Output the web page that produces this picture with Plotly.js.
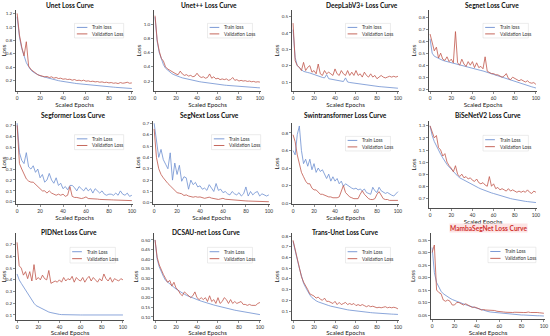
<!DOCTYPE html>
<html><head><meta charset="utf-8">
<script src="https://cdn.plot.ly/plotly-3.0.1.min.js"></script>
<style>html,body{margin:0;padding:0;background:#fff;}#chart{width:550px;height:336px;}</style>
</head><body><div id="chart"></div>
<script>
// ---------------- data ----------------
const epochs = [0,2,4,6,8,10,12,14,16,18,20,22,24,26,28,30,32,34,36,38,40,42,44,46,48,50,52,54,56,58,60,62,64,66,68,70,72,74,76,78,80,82,84,86,88,90,92,94,96,98,100];

const panelTitles = ['Unet Loss Curve','Unet++ Loss Curve','DeepLabV3+ Loss Curve','Segnet Loss Curve','Segformer Loss Curve','SegNext Loss Curve','Swintransformer Loss Curve','BiSeNetV2 Loss Curve','PIDNet Loss Curve','DCSAU-net Loss Curve','Trans-Unet Loss Curve','MambaSegNet Loss Curve'];
const trainLabels = ['Train loss','Train loss','Train loss','Train loss','Train Loss','Train Loss','Train Loss','Train Loss','Train Loss','Train Loss','Train Loss','Train Loss'];
const valLabel = 'Validation Loss';

const unetTrain = [1.15,0.85,0.68,0.56,0.47,0.41,0.36,0.33,0.31,0.29,0.275,0.265,0.255,0.245,0.235,0.225,0.218,0.21,0.203,0.197,0.19,0.185,0.18,0.175,0.17,0.165,0.16,0.156,0.152,0.148,0.144,0.14,0.137,0.134,0.131,0.128,0.125,0.122,0.119,0.116,0.113,0.11,0.107,0.104,0.101,0.099,0.096,0.094,0.091,0.089,0.087];
const unetVal = [1.2,0.88,0.7,0.57,0.78,0.42,0.37,0.34,0.31,0.29,0.28,0.27,0.26,0.265,0.25,0.26,0.24,0.25,0.235,0.24,0.225,0.23,0.22,0.225,0.21,0.22,0.205,0.21,0.2,0.21,0.195,0.2,0.19,0.195,0.185,0.19,0.18,0.185,0.175,0.18,0.17,0.175,0.165,0.17,0.16,0.175,0.165,0.17,0.18,0.165,0.17];
const unetppTrain = [1.1,0.76,0.6,0.5,0.43,0.38,0.35,0.325,0.305,0.29,0.275,0.265,0.255,0.245,0.237,0.23,0.223,0.216,0.21,0.204,0.198,0.192,0.187,0.182,0.177,0.172,0.168,0.164,0.16,0.156,0.152,0.149,0.146,0.143,0.14,0.137,0.134,0.131,0.128,0.126,0.124,0.122,0.12,0.118,0.116,0.114,0.112,0.11,0.108,0.106,0.104];
const unetppVal = [1.12,0.78,0.62,0.52,0.48,0.4,0.37,0.35,0.33,0.31,0.3,0.29,0.34,0.3,0.28,0.29,0.27,0.28,0.26,0.27,0.31,0.27,0.25,0.26,0.24,0.25,0.3,0.24,0.26,0.23,0.24,0.22,0.23,0.22,0.23,0.21,0.22,0.25,0.21,0.22,0.2,0.21,0.2,0.205,0.195,0.2,0.19,0.195,0.185,0.19,0.185];
const deeplabTrain = [0.42,0.25,0.2,0.185,0.175,0.165,0.16,0.158,0.155,0.15,0.145,0.14,0.135,0.13,0.128,0.125,0.145,0.12,0.117,0.115,0.112,0.11,0.108,0.105,0.103,0.125,0.1,0.097,0.095,0.093,0.09,0.088,0.086,0.085,0.083,0.081,0.08,0.078,0.077,0.075,0.074,0.072,0.071,0.07,0.069,0.068,0.067,0.066,0.064,0.063,0.062];
const deeplabVal = [0.46,0.23,0.2,0.19,0.17,0.22,0.17,0.19,0.2,0.16,0.17,0.15,0.21,0.15,0.14,0.17,0.15,0.16,0.15,0.14,0.18,0.15,0.14,0.17,0.15,0.14,0.17,0.14,0.16,0.14,0.17,0.14,0.15,0.13,0.16,0.14,0.13,0.15,0.13,0.14,0.12,0.13,0.14,0.13,0.125,0.13,0.135,0.13,0.135,0.13,0.135];
const segnetTrain = [0.62,0.5,0.475,0.465,0.455,0.445,0.44,0.435,0.43,0.425,0.42,0.415,0.41,0.405,0.4,0.395,0.39,0.385,0.38,0.376,0.372,0.368,0.364,0.36,0.356,0.352,0.346,0.34,0.334,0.328,0.322,0.316,0.31,0.304,0.298,0.292,0.286,0.28,0.274,0.268,0.262,0.256,0.25,0.245,0.24,0.235,0.23,0.225,0.22,0.215,0.21];
const segnetVal = [0.66,0.58,0.52,0.55,0.46,0.5,0.45,0.44,0.47,0.43,0.45,0.42,0.68,0.42,0.4,0.45,0.41,0.39,0.43,0.4,0.43,0.38,0.42,0.38,0.39,0.37,0.47,0.35,0.34,0.33,0.33,0.32,0.32,0.31,0.3,0.31,0.33,0.29,0.28,0.3,0.29,0.28,0.27,0.28,0.27,0.26,0.27,0.255,0.25,0.255,0.24];
const segformerTrain = [0.72,0.45,0.38,0.35,0.45,0.32,0.3,0.33,0.27,0.3,0.22,0.25,0.18,0.2,0.26,0.2,0.17,0.22,0.15,0.17,0.12,0.14,0.11,0.15,0.15,0.13,0.1,0.14,0.12,0.1,0.13,0.1,0.12,0.08,0.12,0.1,0.08,0.1,0.07,0.06,0.07,0.07,0.06,0.08,0.06,0.1,0.07,0.06,0.08,0.05,0.06];
const segformerVal = [0.7,0.35,0.3,0.25,0.21,0.19,0.18,0.18,0.16,0.14,0.12,0.1,0.1,0.08,0.1,0.08,0.07,0.06,0.07,0.06,0.07,0.05,0.06,0.14,0.05,0.04,0.04,0.035,0.03,0.035,0.045,0.03,0.03,0.028,0.025,0.025,0.022,0.02,0.02,0.02,0.018,0.018,0.017,0.016,0.015,0.015,0.014,0.013,0.012,0.012,0.011];
const segnextTrain = [0.7,0.55,0.4,0.47,0.38,0.34,0.3,0.44,0.2,0.35,0.25,0.33,0.19,0.23,0.22,0.12,0.2,0.16,0.18,0.14,0.15,0.12,0.13,0.11,0.16,0.13,0.1,0.17,0.11,0.12,0.09,0.1,0.08,0.07,0.1,0.08,0.07,0.09,0.06,0.08,0.14,0.06,0.1,0.07,0.09,0.1,0.06,0.08,0.07,0.06,0.07];
const segnextVal = [0.65,0.4,0.3,0.25,0.22,0.19,0.17,0.15,0.13,0.11,0.09,0.085,0.08,0.065,0.07,0.06,0.058,0.05,0.055,0.05,0.052,0.045,0.04,0.045,0.05,0.042,0.04,0.035,0.03,0.035,0.04,0.032,0.03,0.025,0.025,0.022,0.02,0.02,0.018,0.018,0.017,0.016,0.015,0.015,0.014,0.015,0.013,0.012,0.012,0.011,0.01];
const swinTrain = [0.6,0.55,0.78,0.88,0.6,0.45,0.5,0.42,0.5,0.38,0.45,0.35,0.4,0.36,0.38,0.32,0.28,0.33,0.25,0.3,0.25,0.28,0.22,0.25,0.19,0.22,0.2,0.18,0.17,0.16,0.17,0.15,0.16,0.14,0.16,0.12,0.11,0.1,0.18,0.14,0.12,0.18,0.14,0.12,0.11,0.12,0.1,0.09,0.08,0.1,0.13];
const swinVal = [0.78,0.7,0.55,0.45,0.35,0.3,0.25,0.22,0.22,0.17,0.15,0.15,0.12,0.1,0.1,0.09,0.08,0.07,0.07,0.06,0.06,0.06,0.07,0.14,0.2,0.12,0.09,0.07,0.06,0.05,0.05,0.05,0.1,0.14,0.1,0.07,0.05,0.04,0.04,0.05,0.1,0.13,0.08,0.05,0.04,0.04,0.03,0.03,0.03,0.03,0.03];
const bisenetTrain = [1.3,1.22,1.17,1.13,1.1,1.065,1.035,1.005,0.98,0.96,0.94,0.92,0.9,0.885,0.87,0.86,0.85,0.84,0.83,0.82,0.81,0.802,0.794,0.786,0.778,0.77,0.763,0.757,0.751,0.745,0.74,0.734,0.728,0.722,0.716,0.71,0.706,0.702,0.698,0.694,0.69,0.687,0.684,0.681,0.678,0.675,0.673,0.671,0.669,0.667,0.665];
const bisenetVal = [1.3,1.25,1.2,1.22,1.12,1.1,1.05,1.07,1.0,0.97,0.95,0.92,0.97,0.9,0.88,0.9,0.87,0.88,0.86,0.87,0.85,0.84,0.86,0.83,0.82,0.83,0.81,0.8,0.88,0.8,0.82,0.78,0.79,0.77,0.78,0.77,0.76,0.78,0.76,0.77,0.76,0.75,0.76,0.75,0.76,0.75,0.77,0.75,0.74,0.76,0.75];
const pidTrain = [0.45,0.4,0.37,0.34,0.32,0.29,0.26,0.23,0.2,0.18,0.17,0.16,0.15,0.14,0.13,0.125,0.12,0.115,0.112,0.108,0.105,0.103,0.102,0.101,0.1,0.1,0.1,0.1,0.1,0.1,0.1,0.1,0.1,0.1,0.1,0.1,0.1,0.1,0.1,0.1,0.1,0.1,0.1,0.1,0.1,0.1,0.1,0.1,0.1,0.1,0.1];
const pidVal = [0.72,0.52,0.5,0.44,0.47,0.41,0.47,0.39,0.53,0.4,0.42,0.4,0.44,0.41,0.4,0.48,0.37,0.38,0.39,0.38,0.4,0.38,0.42,0.39,0.41,0.4,0.43,0.38,0.42,0.4,0.39,0.42,0.38,0.41,0.43,0.39,0.42,0.4,0.38,0.41,0.39,0.45,0.41,0.39,0.42,0.38,0.41,0.4,0.39,0.41,0.4];
const dcsauTrain = [0.5,0.4,0.36,0.33,0.31,0.29,0.28,0.27,0.26,0.252,0.245,0.238,0.23,0.224,0.218,0.212,0.207,0.202,0.198,0.194,0.19,0.186,0.182,0.178,0.174,0.171,0.168,0.165,0.162,0.159,0.156,0.153,0.15,0.147,0.145,0.143,0.14,0.138,0.135,0.133,0.131,0.129,0.127,0.125,0.123,0.121,0.119,0.117,0.115,0.113,0.112];
const dcsauVal = [0.5,0.41,0.37,0.34,0.32,0.3,0.28,0.29,0.26,0.28,0.25,0.24,0.22,0.21,0.23,0.22,0.21,0.2,0.21,0.23,0.2,0.19,0.2,0.19,0.2,0.18,0.21,0.18,0.19,0.17,0.2,0.17,0.18,0.2,0.19,0.17,0.19,0.17,0.18,0.17,0.175,0.18,0.165,0.165,0.16,0.165,0.16,0.16,0.16,0.17,0.175];
const transTrain = [0.75,0.65,0.58,0.5,0.42,0.36,0.32,0.28,0.25,0.225,0.205,0.195,0.185,0.177,0.17,0.163,0.157,0.151,0.145,0.14,0.135,0.13,0.126,0.122,0.118,0.114,0.111,0.108,0.105,0.102,0.099,0.097,0.095,0.093,0.091,0.089,0.087,0.085,0.083,0.081,0.079,0.077,0.076,0.075,0.074,0.073,0.072,0.071,0.07,0.069,0.068];
const transVal = [0.76,0.68,0.58,0.5,0.42,0.37,0.34,0.3,0.26,0.25,0.24,0.22,0.23,0.21,0.2,0.22,0.19,0.19,0.18,0.17,0.19,0.16,0.18,0.16,0.17,0.18,0.16,0.17,0.16,0.17,0.15,0.16,0.15,0.16,0.15,0.14,0.15,0.14,0.145,0.14,0.13,0.135,0.13,0.135,0.14,0.13,0.135,0.13,0.135,0.13,0.12];
const mambaTrain = [0.32,0.22,0.18,0.16,0.145,0.135,0.128,0.122,0.117,0.112,0.108,0.104,0.1,0.097,0.094,0.091,0.088,0.085,0.082,0.079,0.076,0.073,0.07,0.068,0.066,0.064,0.062,0.061,0.06,0.059,0.058,0.057,0.056,0.055,0.054,0.053,0.052,0.052,0.051,0.051,0.05,0.05,0.049,0.049,0.048,0.048,0.048,0.047,0.047,0.047,0.046];
const mambaVal = [0.3,0.33,0.15,0.14,0.135,0.11,0.105,0.11,0.105,0.09,0.09,0.1,0.1,0.095,0.09,0.095,0.09,0.085,0.08,0.082,0.08,0.075,0.07,0.072,0.07,0.07,0.068,0.07,0.068,0.065,0.065,0.064,0.062,0.061,0.06,0.062,0.06,0.061,0.06,0.059,0.06,0.06,0.06,0.062,0.06,0.061,0.06,0.06,0.059,0.058,0.057];

const trainSeries = [unetTrain,unetppTrain,deeplabTrain,segnetTrain,segformerTrain,segnextTrain,swinTrain,bisenetTrain,pidTrain,dcsauTrain,transTrain,mambaTrain];
const valSeries = [unetVal,unetppVal,deeplabVal,segnetVal,segformerVal,segnextVal,swinVal,bisenetVal,pidVal,dcsauVal,transVal,mambaVal];
const xTicks = [0,20,40,60,80,100];
const yTicks = [
  [0.2,0.4,0.6,0.8,1.0,1.2],
  [0.2,0.4,0.6,0.8,1.0],
  [0.1,0.2,0.3,0.4,0.5],
  [0.2,0.3,0.4,0.5,0.6,0.7,0.8],
  [0.0,0.1,0.2,0.3,0.4,0.5,0.6,0.7],
  [0.0,0.1,0.2,0.3,0.4,0.5,0.6,0.7],
  [0.0,0.2,0.4,0.6,0.8],
  [0.7,0.8,0.9,1.0,1.1,1.2,1.3],
  [0.1,0.2,0.3,0.4,0.5,0.6,0.7],
  [0.10,0.15,0.20,0.25,0.30,0.35,0.40,0.45,0.50],
  [0.1,0.2,0.3,0.4,0.5,0.6,0.7,0.8],
  [0.05,0.10,0.15,0.20,0.25,0.30,0.35]
];
const yTickFormats = ['.1f','.1f','.1f','.1f','.1f','.1f','.1f','.1f','.1f','.2f','.1f','.2f'];

// ---------------- layout geometry (pixels) ----------------
const W = 550, H = 336;
const boxes = [[16,133,10,91],[154,261,10,91],[292,399,10,91],[429,537,10,91],
               [16,133,121,204],[153,270,121,204],[292,399,123,204],[429,537,121,208],
               [16,124,233,320],[154,261,233,320],[292,399,233,320],[431,545,233,319]];
const yRanges = [[0.05,1.25],[0.06,1.2],[0.045,0.54],[0.185,0.86],[-0.02,0.74],[-0.01,0.72],[-0.011,0.914],[0.62,1.34],[0.057,0.8],[0.084,0.536],[0.016,0.828],[0.034,0.378]];
const titlePos = [[70,5],[209,5],[362,5],[492,5],[73,115],[209,115],[345,115],[488,115],[69,232],[206,232],[345,232],[488,228]];

const TRAIN_C = '#6d8fd0', VAL_C = '#c0574b';
const FONT = 'Lato, "Open Sans", sans-serif';

const traces = [], annotations = [], shapes = [];
const layout = {width:W, height:H, margin:{l:0,r:0,t:0,b:0}, paper_bgcolor:'#fff', plot_bgcolor:'#fff', showlegend:false, font:{family:FONT, color:'#222'}};

for (let i = 0; i < 12; i++) {
  const n = i + 1, sx = n === 1 ? '' : String(n);
  const xa = 'x' + sx, ya = 'y' + sx;
  const [x0,x1,yt,yb] = boxes[i];
  layout['xaxis' + sx] = {domain:[x0/W, x1/W], anchor:ya, range:[-1,101], tickvals:xTicks, ticks:'outside', ticklen:2, tickwidth:0.6,
    showline:true, linecolor:'#222', linewidth:0.8, showgrid:false, zeroline:false, tickfont:{size:4.8, color:'#333'},
    title:{text:'Scaled Epochs', font:{size:6.2, color:'#222'}, standoff:1}};
  layout['yaxis' + sx] = {domain:[1 - yb/H, 1 - yt/H], anchor:xa, range:yRanges[i], tickvals:yTicks[i], tickformat:yTickFormats[i], ticks:'outside', ticklen:2, tickwidth:0.6,
    showline:true, linecolor:'#222', linewidth:0.8, showgrid:false, zeroline:false, tickfont:{size:4.6, color:'#333'},
    title:{text:'Loss', font:{size:6.2, color:'#222'}, standoff:1}};
  traces.push({x:epochs, y:trainSeries[i], xaxis:xa, yaxis:ya, type:'scatter', mode:'lines', name:trainLabels[i], line:{color:TRAIN_C, width:0.8}});
  traces.push({x:epochs, y:valSeries[i], xaxis:xa, yaxis:ya, type:'scatter', mode:'lines', name:valLabel, line:{color:VAL_C, width:0.8}});

  // title
  const isMamba = i === 11;
  annotations.push({text:'<b>' + panelTitles[i] + '</b>', xref:'paper', yref:'paper', x:titlePos[i][0]/W, y:1 - titlePos[i][1]/H,
    xanchor:'center', yanchor:'middle', showarrow:false, font:{size:6.6, color:isMamba ? '#d0312d' : '#111'},
    bgcolor:isMamba ? '#fde4e4' : 'rgba(0,0,0,0)', borderpad:0});

  // legend (drawn manually so it fits the small panels)
  const dx = xa + ' domain', dy = ya + ' domain';
  shapes.push({type:'rect', xref:dx, yref:dy, x0:0.5, x1:0.92, y0:0.655, y1:0.835, line:{color:'#d9d9d9', width:0.5}, fillcolor:'rgba(255,255,255,0.85)', layer:'above'});
  shapes.push({type:'line', xref:dx, yref:dy, x0:0.52, x1:0.61, y0:0.785, y1:0.785, line:{color:TRAIN_C, width:0.9}, layer:'above'});
  shapes.push({type:'line', xref:dx, yref:dy, x0:0.52, x1:0.61, y0:0.705, y1:0.705, line:{color:VAL_C, width:0.9}, layer:'above'});
  annotations.push({text:trainLabels[i], xref:dx, yref:dy, x:0.635, y:0.785, xanchor:'left', yanchor:'middle', showarrow:false, font:{size:4.8, color:'#333'}});
  annotations.push({text:valLabel, xref:dx, yref:dy, x:0.635, y:0.705, xanchor:'left', yanchor:'middle', showarrow:false, font:{size:4.8, color:'#333'}});
}
layout.annotations = annotations;
layout.shapes = shapes;

Plotly.newPlot('chart', traces, layout, {staticPlot:true, displayModeBar:false});
</script>
</body></html>
